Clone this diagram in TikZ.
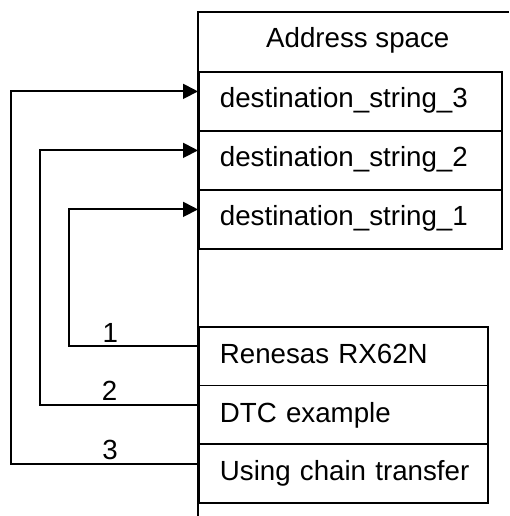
\documentclass[tikz,border=0pt]{standalone}
\usepackage{fontspec}
\setmainfont{Liberation Sans}
\usetikzlibrary{arrows.meta}
\begin{document}
\begin{tikzpicture}[x=1pt,y=1pt,
  every node/.style={font=\fontsize{27.7pt}{33pt}\selectfont},
  line/.style={line width=1.8pt},
  cell/.style={draw, line width=1.8pt, anchor=north west, inner xsep=21pt, inner ysep=0pt, text height=36pt, text depth=23pt, align=left},
  topcell/.style={cell, text width=261pt},
  lowcell/.style={cell, text width=247pt, text height=36.5pt, text depth=22.2pt},
  conn/.style={line width=1.8pt, -{Triangle[length=15pt,width=15pt]}},
  lbl/.style={anchor=base, yshift=4pt, inner sep=0pt}]
\useasboundingbox (0,0) rectangle (509,516);
% address space column
\draw[line] (198,0) -- (198,504) -- (509,504);
\node[anchor=base west, inner sep=0pt] (addr) at (266,468) {Address space};
\node[topcell] (d3) at (198,445) {\mbox{destination\_string\_3}};
\node[topcell] (d2) at (198,386) {\mbox{destination\_string\_2}};
\node[topcell] (d1) at (198,327) {\mbox{destination\_string\_1}};
% source strings
\node[lowcell] (ren) at (198,190) {\mbox{Renesas RX62N}};
\node[lowcell] (dtc) at (198,131.3) {\mbox{DTC example}};
\node[lowcell] (use) at (198,72.6) {\mbox{Using chain transfer}};
% connectors
\draw[conn] ([yshift=10pt]ren.west) -- node[lbl,pos=0.68]{1} ++(-129,0) |- ([yshift=10pt]d1.west);
\draw[conn] ([yshift=10pt]dtc.west) -- node[lbl,pos=0.56]{2} ++(-158,0) |- ([yshift=10pt]d2.west);
\draw[conn] ([yshift=10pt]use.west) -- node[lbl,pos=0.47]{3} ++(-187,0) |- ([yshift=10pt]d3.west);
\end{tikzpicture}
\end{document}
